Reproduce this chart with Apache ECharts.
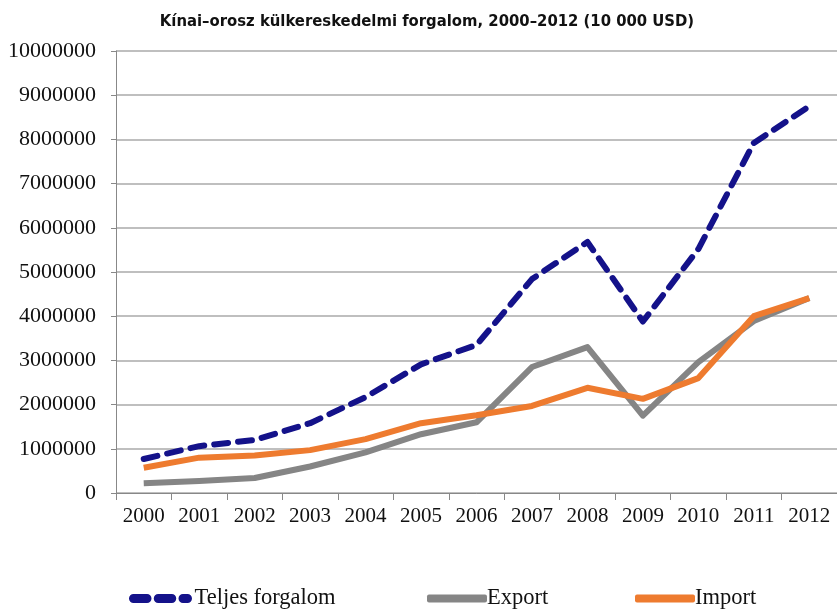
<!DOCTYPE html>
<html><head><meta charset="utf-8">
<script src="https://cdn.jsdelivr.net/npm/echarts@6/dist/echarts.min.js"></script>
<style>html,body{margin:0;padding:0;background:#fff}#c{width:837px;height:609px}</style>
</head><body><div id="c"></div>
<script>
const years = ['2000','2001','2002','2003','2004','2005','2006','2007','2008','2009','2010','2011','2012'];
const teljes = [770000,1060000,1200000,1580000,2170000,2910000,3350000,4840000,5680000,3880000,5520000,7920000,8750000];
const exportVals = [220000,270000,340000,600000,920000,1330000,1600000,2850000,3300000,1750000,2960000,3890000,4410000];
const importVals = [570000,800000,850000,970000,1220000,1580000,1760000,1970000,2380000,2130000,2600000,4000000,4410000];
const names = ['Teljes forgalom','Export','Import'];
const colors = ['#14128a','#858585','#ee7b2f'];

const legText = {fontFamily:'Liberation Serif',fontSize:22.5,color:'#111',padding:[0,0,0,-5]};
const dashIcon = 'path://M4,0H16A4,4 0 0 1 16,8H4A4,4 0 0 1 4,0ZM26,0H38A4,4 0 0 1 38,8H26A4,4 0 0 1 26,0ZM48,0H52A4,4 0 0 1 52,8H48A4,4 0 0 1 48,0Z';
const chart = echarts.init(document.getElementById('c'));
chart.setOption({
  animation:false,
  title:{text:'Kínai–orosz külkereskedelmi forgalom, 2000–2012 (10 000 USD)',left:422,top:8,textAlign:'center',
    textStyle:{fontFamily:'DejaVu Sans Condensed, Liberation Sans Narrow, Roboto Condensed, sans-serif',fontSize:16.5,fontWeight:'bold',color:'#111'}},
  grid:{left:116,right:0,top:51,bottom:116},
  legend:[
    {left:124,top:582,itemWidth:68,itemHeight:9,icon:dashIcon,textStyle:legText,data:[names[0]]},
    {left:422,top:582,itemWidth:60,itemHeight:8,icon:'roundRect',textStyle:legText,data:[names[1]]},
    {left:630,top:582,itemWidth:60,itemHeight:8,icon:'roundRect',textStyle:legText,data:[names[2]]}
  ],
  xAxis:{type:'category',data:years,boundaryGap:true,
    axisLine:{lineStyle:{color:'#888',width:1}},
    axisTick:{show:true,length:7,lineStyle:{color:'#888'}},
    axisLabel:{fontFamily:'Liberation Serif',fontSize:21,color:'#111',margin:13}},
  yAxis:{type:'value',min:0,max:10000000,interval:1000000,
    axisLine:{show:true,lineStyle:{color:'#888'}},
    axisTick:{show:true,length:5,lineStyle:{color:'#888'}},
    splitLine:{lineStyle:{color:'#aaa',width:1.5}},
    axisLabel:{fontFamily:'Liberation Serif',fontSize:22,color:'#111',margin:20,formatter:v=>String(v)}},
  series:[
    {name:names[0],type:'line',data:teljes,symbol:'none',
      lineStyle:{color:colors[0],width:6,type:[14,10],cap:'round',join:'round'},itemStyle:{color:colors[0]}},
    {name:names[1],type:'line',data:exportVals,symbol:'none',
      lineStyle:{color:colors[1],width:6,join:'round'},itemStyle:{color:colors[1]}},
    {name:names[2],type:'line',data:importVals,symbol:'none',
      lineStyle:{color:colors[2],width:6,join:'round'},itemStyle:{color:colors[2]}}
  ]
});
</script></body></html>
